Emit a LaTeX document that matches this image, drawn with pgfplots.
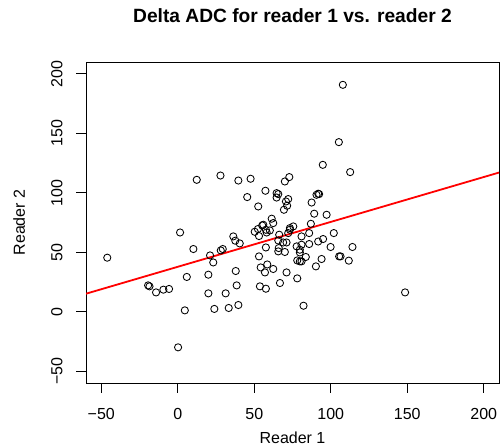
\documentclass[border=0pt]{standalone}
\usepackage{fontspec}
\setmainfont{Liberation Sans}
\usepackage{pgfplots}
\pgfplotsset{compat=1.18}
\begin{document}
\begin{tikzpicture}
\useasboundingbox (0,0) rectangle (500bp,446bp);
\begin{axis}[
  at={(86bp,63bp)}, anchor=south west,
  scale only axis, width=413bp, height=321bp,
  xmin=-60, xmax=210, ymin=-60, ymax=210,
  xtick={-50,0,50,100,150,200}, ytick={-50,0,50,100,150,200},
  xticklabels={−50,0,50,100,150,200},
  yticklabels={−50,0,50,100,150,200},
  tick align=outside, major tick length=9.6bp,
  xtick pos=bottom, ytick pos=left,
  axis line style={line width=0.9bp},
  every tick/.style={black, line width=0.9bp},
  tick label style={font=\fontsize{16bp}{19bp}\selectfont},
  xticklabel style={anchor=base, yshift=-27bp},
  yticklabel style={anchor=base, xshift=-14bp, rotate=90},
  title={\fontsize{19.2bp}{23bp}\selectfont\bfseries Delta ADC for reader 1 vs. reader 2},
  title style={at={(axis description cs:0.5,1.1044)}, anchor=base},
  xlabel={\fontsize{16bp}{19bp}\selectfont Reader 1},
  xlabel style={at={(axis description cs:0.5,-0.1875)}, anchor=base},
  ylabel={\fontsize{16bp}{19bp}\selectfont Reader 2},
  ylabel style={at={(axis description cs:-0.1477,0.5)}, anchor=base, rotate=0},
  clip=true,
]
\addplot[only marks, mark=o, mark size=3.6bp, black, line width=0.85bp] table {
x y
-46.1 45.4
-19.4 22.1
-18.5 21.3
-14.2 16.2
-9.4 18.5
-5.7 19.1
0.2 -30
1.5 66.6
4.6 1.1
5.9 29.2
10.2 52.7
12.4 110.9
20 31.1
21.1 47.3
23.2 41.4
20 15.4
23.9 2.3
28.1 51.5
29.4 52.7
27.9 114.5
31.3 15.4
33.3 3.1
36.3 63.3
37.6 59.7
40.5 57.4
37.9 34.2
38.5 22.1
39.6 5.6
39.6 110.3
47.6 111.8
45.4 96.4
57.3 101.7
52.6 88.5
50.3 67.2
52.4 69.5
53.1 63.6
55.2 72.5
57.6 68.9
57.6 54
53.1 46.5
54.2 37.2
57 33
58.5 39.7
53.7 21.3
57.6 19.3
107.9 190.8
105.3 142.6
94.8 123.5
112.7 117.4
72.9 113.2
70 109.5
64.6 99.7
65.7 98.9
64.6 96
72.2 94.7
70.7 92.7
71.5 89.1
69.4 85.7
90.7 98.3
91.8 99.2
92.4 98.9
87.5 91.8
89.2 82.4
97.3 81.5
61.4 78.2
62.4 74.5
55.9 73.1
87 73.9
75.5 71.7
73.3 70.3
72.2 66.1
73.3 68.9
58.1 66.6
60.2 68.3
66.3 64.7
85.9 66.1
80.9 63.3
102 66.1
65.7 59.9
68.9 58.2
71.1 58.2
77.7 54.9
80.9 56.3
85.9 56.9
91.8 59
95 61.1
99.9 54.4
114.2 54.4
65.7 50.7
70 50.2
79.8 49.8
83.7 46
105.5 46.5
106.4 46.5
78.1 43.1
79.8 42.3
80.9 42.3
94 44.3
111.8 42.9
62.4 35.9
71.1 33
90.3 38.1
66.8 24.1
78.1 28
82.2 5
148.6 16.2
79.8 52.1
66 53.5
};
\addplot[red, line width=1.8bp] coordinates {(-60,15.1) (210,117)};
\end{axis}
\end{tikzpicture}
\end{document}
